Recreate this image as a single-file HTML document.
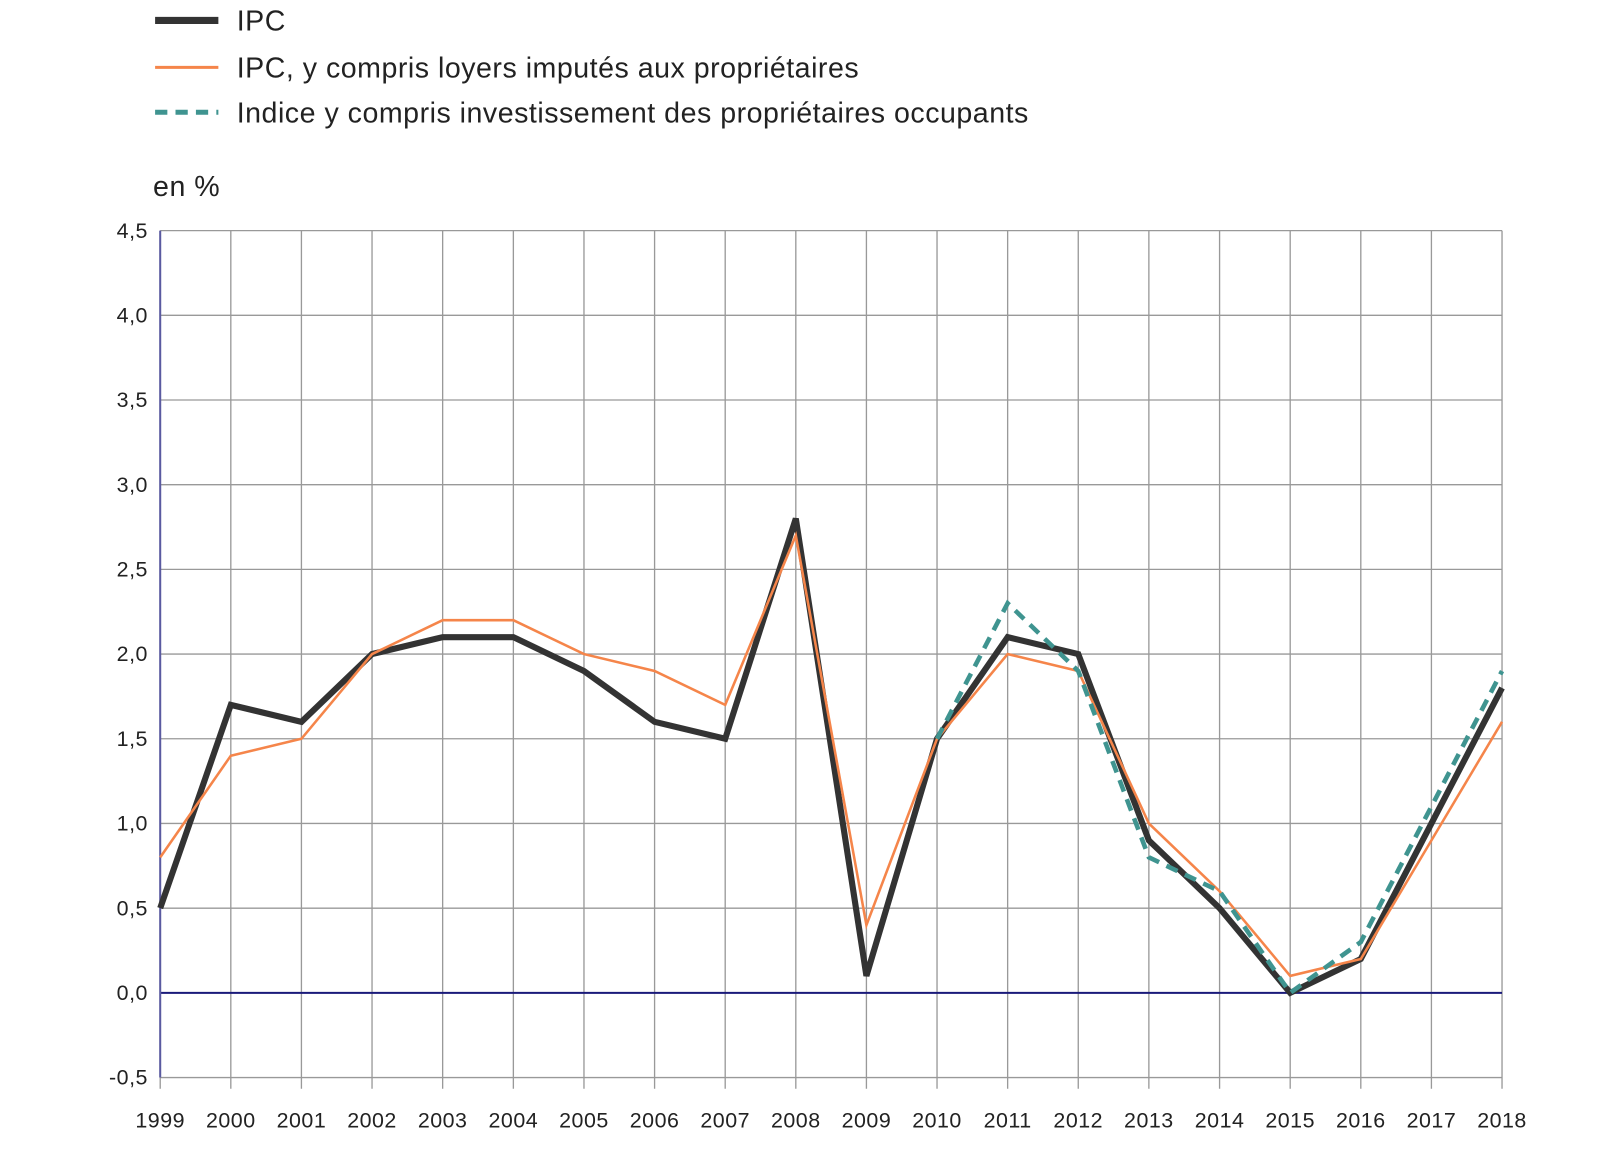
<!DOCTYPE html>
<html><head><meta charset="utf-8"><style>
html,body{margin:0;padding:0;background:#fff;}
svg{display:block;font-family:"Liberation Sans",sans-serif;}
</style></head><body>
<svg width="1600" height="1150" viewBox="0 0 1600 1150" xmlns="http://www.w3.org/2000/svg">
<g transform="scale(1.0204)">
<!-- legend -->
<line x1="152" y1="20" x2="214" y2="20" stroke="#333" stroke-width="7"/>
<text x="232" y="30" font-size="28" letter-spacing="0.5" fill="#222">IPC</text>
<line x1="152" y1="66" x2="214" y2="66" stroke="#f5854a" stroke-width="3"/>
<text x="232" y="76" font-size="28" letter-spacing="0.5" fill="#222">IPC, y compris loyers imputés aux propriétaires</text>
<line x1="152" y1="110" x2="214" y2="110" stroke="#3f9490" stroke-width="5" stroke-dasharray="12,8"/>
<text x="232" y="120" font-size="28" letter-spacing="0.5" fill="#222">Indice y compris investissement des propriétaires occupants</text>
<text x="150" y="192" font-size="28" letter-spacing="0.5" fill="#222">en %</text>
<!-- grid -->
<g stroke="#999" stroke-width="1.3">
<line x1="157" y1="226" x2="1472" y2="226"/><line x1="157" y1="309" x2="1472" y2="309"/>
<line x1="157" y1="392" x2="1472" y2="392"/><line x1="157" y1="475" x2="1472" y2="475"/>
<line x1="157" y1="558" x2="1472" y2="558"/><line x1="157" y1="641" x2="1472" y2="641"/>
<line x1="157" y1="724" x2="1472" y2="724"/><line x1="157" y1="807" x2="1472" y2="807"/>
<line x1="157" y1="890" x2="1472" y2="890"/><line x1="157" y1="1056" x2="1472" y2="1056"/>
<line x1="157" y1="1056" x2="157" y2="1067"/>
<line x1="226.2" y1="226" x2="226.2" y2="1067"/><line x1="295.4" y1="226" x2="295.4" y2="1067"/>
<line x1="364.6" y1="226" x2="364.6" y2="1067"/><line x1="433.8" y1="226" x2="433.8" y2="1067"/>
<line x1="503.1" y1="226" x2="503.1" y2="1067"/><line x1="572.3" y1="226" x2="572.3" y2="1067"/>
<line x1="641.5" y1="226" x2="641.5" y2="1067"/><line x1="710.7" y1="226" x2="710.7" y2="1067"/>
<line x1="779.9" y1="226" x2="779.9" y2="1067"/><line x1="849.1" y1="226" x2="849.1" y2="1067"/>
<line x1="918.3" y1="226" x2="918.3" y2="1067"/><line x1="987.5" y1="226" x2="987.5" y2="1067"/>
<line x1="1056.7" y1="226" x2="1056.7" y2="1067"/><line x1="1125.9" y1="226" x2="1125.9" y2="1067"/>
<line x1="1195.2" y1="226" x2="1195.2" y2="1067"/><line x1="1264.4" y1="226" x2="1264.4" y2="1067"/>
<line x1="1333.6" y1="226" x2="1333.6" y2="1067"/><line x1="1402.8" y1="226" x2="1402.8" y2="1067"/>
<line x1="1472" y1="226" x2="1472" y2="1067"/>
</g>
<line x1="157" y1="973" x2="1472" y2="973" stroke="#1a1a7a" stroke-width="2"/>
<line x1="157" y1="226" x2="157" y2="1056" stroke="#5a5aa0" stroke-width="2"/>
<!-- y labels -->
<g font-size="21" letter-spacing="0.5" fill="#222" text-anchor="end">
<text x="145" y="233">4,5</text><text x="145" y="316">4,0</text><text x="145" y="399">3,5</text>
<text x="145" y="482">3,0</text><text x="145" y="565">2,5</text><text x="145" y="648">2,0</text>
<text x="145" y="731">1,5</text><text x="145" y="814">1,0</text><text x="145" y="897">0,5</text>
<text x="145" y="980">0,0</text><text x="145" y="1063">-0,5</text>
</g>
<!-- x labels -->
<g font-size="21" letter-spacing="0.5" fill="#222" text-anchor="middle">
<text x="157" y="1105">1999</text><text x="226.2" y="1105">2000</text><text x="295.4" y="1105">2001</text>
<text x="364.6" y="1105">2002</text><text x="433.8" y="1105">2003</text><text x="503.1" y="1105">2004</text>
<text x="572.3" y="1105">2005</text><text x="641.5" y="1105">2006</text><text x="710.7" y="1105">2007</text>
<text x="779.9" y="1105">2008</text><text x="849.1" y="1105">2009</text><text x="918.3" y="1105">2010</text>
<text x="987.5" y="1105">2011</text><text x="1056.7" y="1105">2012</text><text x="1125.9" y="1105">2013</text>
<text x="1195.2" y="1105">2014</text><text x="1264.4" y="1105">2015</text><text x="1333.6" y="1105">2016</text>
<text x="1402.8" y="1105">2017</text><text x="1472" y="1105">2018</text>
</g>
<!-- series -->
<polyline fill="none" stroke="#333" stroke-width="6" points="157,890 226.2,690.8 295.4,707.4 364.6,641 433.8,624.4 503.1,624.4 572.3,657.6 641.5,707.4 710.7,724 779.9,508.2 849.1,956.4 918.3,724 987.5,624.4 1056.7,641 1125.9,823.6 1195.2,890 1264.4,973 1333.6,939.8 1402.8,807 1472,674.2"/>
<polyline fill="none" stroke="#f5854a" stroke-width="2.5" points="157,840.2 226.2,740.6 295.4,724 364.6,641 433.8,607.8 503.1,607.8 572.3,641 641.5,657.6 710.7,690.8 779.9,524.8 849.1,906.6 918.3,724 987.5,641 1056.7,657.6 1125.9,807 1195.2,873.4 1264.4,956.4 1333.6,939.8 1402.8,823.6 1472,707.4"/>
<polyline fill="none" stroke="#3f9490" stroke-width="4.5" stroke-dasharray="12,8" points="918.3,724 987.5,591.2 1056.7,657.6 1125.9,840.2 1195.2,873.4 1264.4,973 1333.6,923.2 1402.8,790.4 1472,657.6"/>
</g>
</svg>
</body></html>
